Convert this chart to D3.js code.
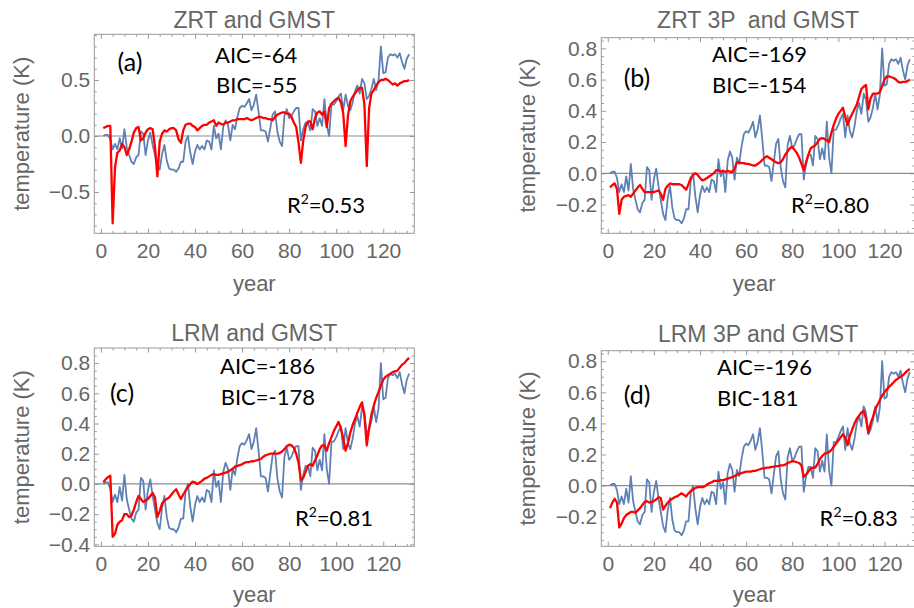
<!DOCTYPE html>
<html>
<head>
<meta charset="utf-8">
<script src="https://cdn.jsdelivr.net/npm/d3@7"></script>
<style>
  body { margin: 0; background: #fff; }
  svg { display: block; }
  .tick line { stroke: #999; }
  .domain { display: none; }
</style>
</head>
<body>
<svg width="914" height="608"></svg>
<script>
// year index (1 = first year of record)
const years = d3.range(1, 132);

// observed GMST anomaly (K), same in every panel
const gmst = [
  0.00, 0.01, 0.01, -0.03, -0.12, -0.07, -0.12, -0.02, -0.11, 0.06,
  -0.10, -0.17, -0.23, -0.25, -0.19, -0.17, 0.04, 0.02, -0.17, -0.04,
  0.03, -0.08, -0.17, -0.26, -0.30, -0.16, -0.08, -0.22, -0.29, -0.30,
  -0.30, -0.32, -0.29, -0.23, -0.23, -0.05, 0.00, -0.15, -0.25, -0.14,
  -0.08, -0.12, -0.09, -0.12, -0.04, -0.05, -0.12, 0.09, -0.02, 0.02,
  -0.12, 0.08, 0.14, 0.10, -0.04, 0.10, 0.06, 0.17, 0.25, 0.27,
  0.26, 0.29, 0.33, 0.23, 0.28, 0.37, 0.22, 0.05, 0.05, 0.04,
  -0.05, 0.07, 0.19, 0.22, 0.04, -0.05, -0.09, 0.18, 0.24, 0.16,
  0.18, 0.22, 0.25, 0.25, -0.04, 0.06, 0.12, 0.12, 0.05, 0.24,
  0.22, 0.09, 0.16, 0.09, 0.33, 0.10, 0.00, 0.28, 0.28, 0.31,
  0.35, 0.38, 0.23, 0.37, 0.27, 0.23, 0.30, 0.40, 0.45, 0.38,
  0.51, 0.47, 0.33, 0.36, 0.42, 0.51, 0.41, 0.50,
  0.80, 0.56, 0.57, 0.70, 0.73, 0.72, 0.73, 0.70, 0.74, 0.66, 0.60, 0.69, 0.73
];

// model fits
const zrt = [
  0.07, 0.08, 0.09, 0.09, -0.78, -0.28, -0.15, -0.13, -0.07, -0.10,
  -0.17, -0.12, -0.05, 0.03, 0.07, 0.08, -0.04, -0.02, 0.03, 0.06,
  0.07, 0.06, -0.10, -0.36, -0.05, 0.02, 0.05, 0.04, 0.06, 0.07,
  0.07, 0.05, -0.03, -0.06, 0.05, 0.10, 0.11, 0.11, 0.09, 0.08,
  0.05, 0.07, 0.09, 0.10, 0.10, 0.12, 0.13, 0.14, 0.09, 0.12,
  0.11, 0.10, 0.12, 0.12, 0.13, 0.14, 0.14, 0.15, 0.15, 0.15,
  0.15, 0.16, 0.15, 0.14, 0.15, 0.16, 0.17, 0.17, 0.16, 0.16,
  0.15, 0.15, 0.14, 0.17, 0.19, 0.20, 0.21, 0.21, 0.20, 0.20,
  0.17, 0.12, 0.08, -0.06, -0.24, -0.04, 0.08, 0.13, 0.13, 0.06,
  0.16, 0.21, 0.22, 0.19, 0.22, 0.08, 0.25, 0.29, 0.31, 0.33,
  0.34, 0.30, 0.20, -0.09, 0.18, 0.31, 0.35, 0.38, 0.41, 0.43,
  0.43, 0.28, -0.27, 0.25, 0.38, 0.41, 0.45, 0.48, 0.50, 0.50,
  0.51, 0.50, 0.48, 0.46, 0.47, 0.45, 0.47, 0.48, 0.49, 0.49, 0.50
];

const zrt3p = [
  -0.09, -0.075, -0.065, -0.10, -0.26, -0.17, -0.15, -0.145, -0.14, -0.15,
  -0.13, -0.11, -0.09, -0.075, -0.10, -0.12, -0.12, -0.12, -0.12, -0.12,
  -0.115, -0.11, -0.13, -0.17, -0.10, -0.08, -0.065, -0.07, -0.07, -0.07,
  -0.07, -0.075, -0.09, -0.105, -0.07, -0.03, -0.01, 0.00, -0.01, -0.03,
  -0.045, -0.04, -0.03, -0.02, -0.01, 0.00, 0.02, 0.02, 0.01, 0.015,
  0.01, 0.015, 0.01, 0.01, 0.03, 0.07, 0.07, 0.065, 0.065, 0.06,
  0.06, 0.055, 0.05, 0.05, 0.06, 0.07, 0.085, 0.10, 0.11, 0.10,
  0.09, 0.08, 0.07, 0.065, 0.07, 0.09, 0.12, 0.14, 0.16, 0.17,
  0.15, 0.13, 0.10, 0.06, 0.02, 0.07, 0.12, 0.16, 0.17, 0.18,
  0.20, 0.22, 0.225, 0.22, 0.21, 0.20, 0.26, 0.31, 0.35, 0.38,
  0.40, 0.42, 0.36, 0.31, 0.35, 0.38, 0.41, 0.44, 0.49, 0.54,
  0.555, 0.565, 0.41, 0.48, 0.51, 0.51, 0.51, 0.52, 0.56, 0.60,
  0.62, 0.62, 0.615, 0.61, 0.60, 0.585, 0.58, 0.585, 0.585, 0.59, 0.60
];

const lrm = [
  0.01, 0.03, 0.045, 0.055, -0.35, -0.33, -0.27, -0.25, -0.24, -0.20,
  -0.20, -0.22, -0.21, -0.17, -0.12, -0.08, -0.10, -0.12, -0.11, -0.10,
  -0.08, -0.06, -0.09, -0.22, -0.18, -0.13, -0.11, -0.10, -0.09, -0.07,
  -0.05, -0.035, -0.07, -0.10, -0.07, -0.045, -0.02, 0.00, 0.015, 0.01,
  0.00, 0.01, 0.02, 0.035, 0.04, 0.05, 0.06, 0.065, 0.06, 0.06,
  0.065, 0.07, 0.075, 0.08, 0.09, 0.10, 0.115, 0.12, 0.125, 0.13,
  0.14, 0.145, 0.145, 0.15, 0.15, 0.155, 0.16, 0.165, 0.18, 0.19,
  0.195, 0.20, 0.20, 0.20, 0.20, 0.205, 0.215, 0.23, 0.25, 0.26,
  0.255, 0.24, 0.20, 0.14, 0.025, 0.04, 0.08, 0.12, 0.13, 0.12,
  0.155, 0.19, 0.23, 0.255, 0.255, 0.22, 0.27, 0.31, 0.35, 0.38,
  0.41, 0.37, 0.30, 0.22, 0.27, 0.34, 0.39, 0.43, 0.47, 0.51,
  0.54, 0.45, 0.255, 0.37, 0.46, 0.52, 0.57, 0.61, 0.65, 0.69,
  0.71, 0.72, 0.73, 0.74, 0.745, 0.75, 0.77, 0.79, 0.80, 0.82, 0.835
];

const lrm3p = [
  -0.145, -0.11, -0.085, -0.11, -0.27, -0.245, -0.21, -0.19, -0.18, -0.17,
  -0.17, -0.175, -0.16, -0.145, -0.125, -0.105, -0.10, -0.11, -0.105, -0.10,
  -0.09, -0.075, -0.08, -0.155, -0.13, -0.11, -0.095, -0.085, -0.075, -0.07,
  -0.06, -0.05, -0.06, -0.07, -0.05, -0.035, -0.025, -0.015, -0.01, -0.01,
  -0.01, -0.005, 0.005, 0.015, 0.02, 0.03, 0.03, 0.03, 0.035, 0.035,
  0.04, 0.045, 0.05, 0.055, 0.06, 0.07, 0.075, 0.08, 0.085, 0.09,
  0.09, 0.09, 0.095, 0.095, 0.10, 0.105, 0.11, 0.11, 0.115, 0.115,
  0.12, 0.12, 0.125, 0.125, 0.13, 0.13, 0.135, 0.145, 0.15, 0.157,
  0.155, 0.15, 0.145, 0.13, 0.055, 0.07, 0.09, 0.11, 0.115, 0.115,
  0.14, 0.17, 0.19, 0.205, 0.21, 0.215, 0.23, 0.25, 0.27, 0.29,
  0.31, 0.33, 0.31, 0.26, 0.32, 0.36, 0.40, 0.43, 0.45, 0.47,
  0.48, 0.43, 0.34, 0.40, 0.44, 0.49, 0.52, 0.55, 0.58, 0.60,
  0.62, 0.635, 0.65, 0.665, 0.68, 0.69, 0.70, 0.71, 0.725, 0.74, 0.75
];

const titles = ["ZRT and GMST", "ZRT 3P  and GMST", "LRM and GMST", "LRM 3P and GMST"];
const tags = ["(a)", "(b)", "(c)", "(d)"];
const aicLabels = ["AIC=-64", "AIC=-169", "AIC=-186", "AIC=-196"];
const bicLabels = ["BIC=-55", "BIC=-154", "BIC=-178", "BIC-181"];
const r2Labels = ["=0.53", "=0.80", "=0.81", "=0.83"];
const xTicks = [0, 20, 40, 60, 80, 100, 120];
const yTicksA = [-0.5, 0, 0.5];
const yTicksB = [-0.2, 0, 0.2, 0.4, 0.6, 0.8];
const yTicksC = [-0.4, -0.2, 0, 0.2, 0.4, 0.6, 0.8];

// panel layout (frame box, ranges, text positions)
const panels = [
  { model: zrt, left: 94.3, top: 34.3, w: 320, h: 199, yDom: [-0.869, 0.908], yTicks: yTicksA, minorStep: 0.1,
    titleY: 28.3, yearY: 290.7, ylabX: 29,
    tag: [130, 70.7], aic: [215, 62.7], bic: [216, 92.7], r2: [326, 213] },
  { model: zrt3p, left: 601.3, top: 37.7, w: 313.6, h: 195.6, yDom: [-0.384, 0.868], yTicks: yTicksB, minorStep: 0.05,
    titleY: 28.3, yearY: 290.7, ylabX: 535,
    tag: [637, 87.3], aic: [712, 62.3], bic: [712, 92.7], r2: [830, 213.3] },
  { model: lrm, left: 94.3, top: 348, w: 320, h: 198.3, yDom: [-0.413, 0.90], yTicks: yTicksC, minorStep: 0.05,
    titleY: 340.7, yearY: 602, ylabX: 29,
    tag: [122, 402.3], aic: [220, 374], bic: [220.7, 404.7], r2: [334, 525.7] },
  { model: lrm3p, left: 601.3, top: 350.7, w: 313.6, h: 195.6, yDom: [-0.391, 0.868], yTicks: yTicksB, minorStep: 0.05,
    titleY: 341.7, yearY: 602, ylabX: 535,
    tag: [637, 404], aic: [717, 375], bic: [717, 405.7], r2: [858.7, 525.7] }
];

const svg = d3.select("svg");
const fmt = d => d === 0 ? "0.0" : (d < 0 ? "\u2212" : "") + d3.format(".1f")(Math.abs(d));
const annoFont = "Lato, 'Open Sans', sans-serif";
const axisFont = "'Liberation Sans', Arial, sans-serif";

panels.forEach((p, i) => {
  const x = d3.scaleLinear().domain([-2.8, 133.2]).range([0, p.w]);
  const y = d3.scaleLinear().domain(p.yDom).range([p.h, 0]);
  const g = svg.append("g").attr("transform", `translate(${p.left},${p.top})`);

  const minorX = d3.range(0, 135, 5).filter(v => xTicks.indexOf(v) < 0);
  const minorY = d3.range(Math.ceil(p.yDom[0] / p.minorStep) * p.minorStep, p.yDom[1], p.minorStep)
    .map(v => +v.toFixed(3))
    .filter(v => !p.yTicks.some(t => Math.abs(t - v) < 1e-6));

  // ticks pointing inward on all four sides
  g.append("g").attr("transform", `translate(0,${p.h})`)
    .call(d3.axisBottom(x).tickValues(xTicks).tickSize(-4.5).tickPadding(10).tickFormat(d3.format("d")));
  g.append("g").attr("transform", `translate(0,${p.h})`)
    .call(d3.axisBottom(x).tickValues(minorX).tickSize(-2.5).tickFormat(""));
  g.append("g").call(d3.axisTop(x).tickValues(xTicks).tickSize(-4.5).tickFormat(""));
  g.append("g").call(d3.axisTop(x).tickValues(minorX).tickSize(-2.5).tickFormat(""));

  g.append("g").call(d3.axisLeft(y).tickValues(p.yTicks).tickSize(-4.5).tickPadding(4).tickFormat(fmt));
  g.append("g").call(d3.axisLeft(y).tickValues(minorY).tickSize(-2.5).tickFormat(""));
  g.append("g").attr("transform", `translate(${p.w},0)`)
    .call(d3.axisRight(y).tickValues(p.yTicks).tickSize(-4.5).tickFormat(""));
  g.append("g").attr("transform", `translate(${p.w},0)`)
    .call(d3.axisRight(y).tickValues(minorY).tickSize(-2.5).tickFormat(""));

  g.selectAll(".tick text").attr("font-family", axisFont).attr("font-size", 21).attr("fill", "#666");

  // zero line
  g.append("line")
    .attr("x1", 0).attr("x2", p.w)
    .attr("y1", y(0)).attr("y2", y(0))
    .attr("stroke", "#8c8c8c").attr("stroke-width", 1.2);

  const clipId = "clip" + i;
  g.append("clipPath").attr("id", clipId)
    .append("rect").attr("width", p.w).attr("height", p.h);

  const line = d3.line().x((d, k) => x(years[k])).y(d => y(d));

  g.append("path").datum(gmst)
    .attr("clip-path", `url(#${clipId})`)
    .attr("fill", "none").attr("stroke", "#5E81B5").attr("stroke-width", 1.8)
    .attr("stroke-linejoin", "round")
    .attr("d", line);

  g.append("path").datum(p.model)
    .attr("clip-path", `url(#${clipId})`)
    .attr("fill", "none").attr("stroke", "#FF0000").attr("stroke-width", 2.3)
    .attr("stroke-linejoin", "round")
    .attr("d", line);

  // frame
  g.append("rect").attr("width", p.w).attr("height", p.h)
    .attr("fill", "none").attr("stroke", "#999").attr("stroke-width", 1);

  // titles and axis labels
  svg.append("text")
    .attr("x", p.left + p.w / 2).attr("y", p.titleY)
    .attr("text-anchor", "middle")
    .attr("font-family", axisFont).attr("font-size", 23).attr("fill", "#666")
    .style("white-space", "pre")
    .text(titles[i]);

  svg.append("text")
    .attr("x", p.left + p.w / 2 - (i % 2 ? 4 : 0)).attr("y", p.yearY)
    .attr("text-anchor", "middle")
    .attr("font-family", axisFont).attr("font-size", 22).attr("fill", "#666")
    .text("year");

  svg.append("text")
    .attr("transform", `translate(${p.ylabX},${p.top + p.h / 2}) rotate(-90)`)
    .attr("text-anchor", "middle")
    .attr("font-family", axisFont).attr("font-size", 22).attr("fill", "#666")
    .text("temperature (K)");

  // annotations
  svg.append("text").attr("x", p.tag[0]).attr("y", p.tag[1])
    .attr("text-anchor", "middle").attr("font-family", annoFont).attr("font-size", 25)
    .text(tags[i]);
  svg.append("text").attr("x", p.aic[0]).attr("y", p.aic[1])
    .attr("font-family", annoFont).attr("font-size", 22)
    .text(aicLabels[i]);
  svg.append("text").attr("x", p.bic[0]).attr("y", p.bic[1])
    .attr("font-family", annoFont).attr("font-size", 22)
    .text(bicLabels[i]);
  const r2 = svg.append("text").attr("x", p.r2[0]).attr("y", p.r2[1])
    .attr("text-anchor", "middle").attr("font-family", annoFont).attr("font-size", 22);
  r2.append("tspan").text("R");
  r2.append("tspan").attr("font-size", 14).attr("dy", -9).text("2");
  r2.append("tspan").attr("dy", 9).text(r2Labels[i]);
});
</script>
</body>
</html>
